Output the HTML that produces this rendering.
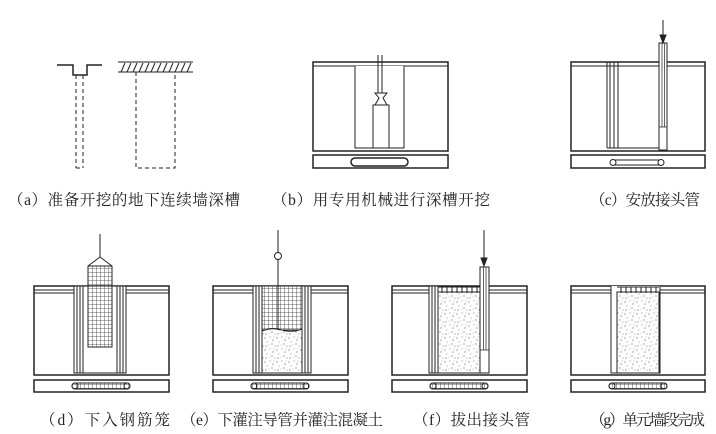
<!DOCTYPE html>
<html><head><meta charset="utf-8"><style>
body{margin:0;background:#fff;width:716px;height:434px;overflow:hidden}
svg{display:block}
text{font-family:"Liberation Serif","Noto Serif CJK SC","Noto Sans CJK SC",serif;font-size:15.5px;fill:#222}
</style></head><body>
<svg width="716" height="434" viewBox="0 0 716 434" xmlns="http://www.w3.org/2000/svg">
<defs>
<pattern id="grid" width="4" height="4" patternUnits="userSpaceOnUse"><path d="M0 0H4M0 0V4" stroke="#333" stroke-width="0.8" fill="none"/></pattern>
<pattern id="conc" width="12" height="12" patternUnits="userSpaceOnUse">
<rect width="12" height="12" fill="#fff"/>
<g fill="#666"><circle cx="1" cy="2" r="0.6"/><circle cx="6" cy="1" r="0.5"/><circle cx="9" cy="4" r="0.6"/><circle cx="3" cy="6" r="0.5"/><circle cx="8" cy="8" r="0.6"/><circle cx="2" cy="10" r="0.6"/><circle cx="11" cy="10" r="0.5"/><circle cx="5" cy="9" r="0.4"/><circle cx="10" cy="1" r="0.4"/></g>
</pattern>
</defs>
<g stroke="#222" fill="none" stroke-width="1">
<path d="M57 65H73V75H87V65H102" stroke-width="1.5"/>
<path d="M76 75V168M83 75V168M76 168H83" stroke-dasharray="4 3"/>
<path d="M118 62H193M118 72H193" />
<path d="M121 72l4-9M127 72l4-9M133 72l4-9M139 72l4-9M145 72l4-9M151 72l4-9M157 72l4-9M163 72l4-9M169 72l4-9M175 72l4-9M181 72l4-9M187 72l4-9"/>
<path d="M136 72V168H175V72" stroke-dasharray="4 3"/>
<rect x="313" y="62" width="135" height="89" stroke-width="1.5"/>
<path d="M313 66H448"/>
<path d="M355 66V148H404V66" fill="#fff"/>
<rect x="373" y="105" width="16" height="43"/>
<path d="M378 55V93M382 55V93M375 93L387 93L383 98L387 105H375L379 98Z"/>
<rect x="313" y="155" width="135" height="13" stroke-width="1.5"/>
<rect x="351" y="158" width="57" height="8" rx="4" stroke-width="1.5"/>
<rect x="571" y="62" width="134" height="89" stroke-width="1.5"/>
<path d="M571 66H705"/>
<path d="M607 62V148M610 62V148M614 62V148M618 62V148"/>
<path d="M607 148H667"/>
<rect x="659" y="43" width="8" height="107" fill="#fff"/>
<path d="M662 43V127M664.5 43V127M659 127H667" stroke-width="0.7"/>
<path d="M663 20V36"/>
<polygon points="660,35 666,35 663,43" fill="#222"/>
<rect x="571" y="155" width="134" height="13" stroke-width="1.5"/>
<path d="M613 160H660M613 165H660"/>
<circle cx="613" cy="162.5" r="3" fill="#fff"/><circle cx="661" cy="162.5" r="3" fill="#fff"/>
</g>
<g stroke="#222" fill="none" stroke-width="1">
<rect x="34" y="286" width="135" height="89" stroke-width="1.5"/>
<path d="M34 290H169M34 293H169"/>
<rect x="74" y="286" width="52" height="87" fill="#fff"/>
<path d="M77 286V373M80 286V373M83 286V373M117 286V373M120 286V373M123 286V373M83 373H117"/>
<rect x="88" y="266" width="24" height="81" fill="url(#grid)"/>
<path d="M100 234V257L88 266M100 257L112 266"/>
<rect x="34" y="380" width="135" height="12" stroke-width="1.5"/>
<rect x="72" y="383" width="58" height="6" rx="3" fill="url(#grid)"/>
<circle cx="75" cy="386" r="3"/><circle cx="127" cy="386" r="3"/>
<rect x="213" y="286" width="135" height="89" stroke-width="1.5"/>
<path d="M213 290H348M213 293H348"/>
<rect x="253" y="286" width="58" height="87" fill="#fff"/>
<path d="M256 286V373M259 286V373M262 286V373M302 286V373M305 286V373M308 286V373"/>
<rect x="262" y="286" width="40" height="44" fill="url(#grid)"/>
<path d="M262 331Q272 327 282 330T302 329V373H262Z" fill="url(#conc)"/>
<path d="M278 230V252M278 260V330"/><circle cx="278" cy="256" r="3.5"/>
<rect x="213" y="380" width="135" height="12" stroke-width="1.5"/>
<rect x="251" y="383" width="58" height="6" rx="3" fill="url(#grid)"/>
<circle cx="254" cy="386" r="3"/><circle cx="306" cy="386" r="3"/>
<rect x="392" y="286" width="135" height="89" stroke-width="1.5"/>
<path d="M392 290H527M392 293H527"/>
<rect x="429" y="286" width="60" height="87" fill="#fff"/>
<path d="M432 286V373M435 286V373M438 286V373"/>
<rect x="438" y="292" width="42" height="81" fill="url(#conc)"/>
<path d="M438 287H480M442 287V293M447 287V293M452 287V293M457 287V293M462 287V293M467 287V293M472 287V293M477 287V293"/>
<rect x="480" y="267" width="9" height="106" fill="#fff"/>
<path d="M483.5 267V350M486 267V350M480 350H489" stroke-width="0.7"/>
<path d="M484 230V259"/>
<polygon points="481,258 487,258 484,266" fill="#222"/>
<rect x="392" y="380" width="135" height="12" stroke-width="1.5"/>
<rect x="430" y="383" width="58" height="6" rx="3" fill="url(#grid)"/>
<circle cx="433" cy="386" r="3"/><circle cx="485" cy="386" r="3"/>
<rect x="571" y="286" width="134" height="89" stroke-width="1.5"/>
<path d="M571 290H705M571 293H705"/>
<path d="M611 286V373H660V286" fill="#fff"/>
<rect x="617" y="292" width="42" height="81" fill="url(#conc)"/>
<path d="M617 292V373"/>
<path d="M617 287H659M621 287V293M626 287V293M631 287V293M636 287V293M641 287V293M646 287V293M651 287V293M656 287V293"/>
<rect x="571" y="380" width="134" height="12" stroke-width="1.5"/>
<rect x="609" y="383" width="58" height="6" rx="3" fill="url(#grid)"/>
<circle cx="612" cy="386" r="3"/><circle cx="664" cy="386" r="3"/>
</g>
<text x="8" y="205" textLength="232" lengthAdjust="spacing">（a）准备开挖的地下连续墙深槽</text>
<text x="272" y="205" textLength="218" lengthAdjust="spacing">（b）用专用机械进行深槽开挖</text>
<text x="590" y="205" textLength="110" lengthAdjust="spacing">（c）安放接头管</text>
<text x="40" y="425" textLength="130" lengthAdjust="spacing">（d）下入钢筋笼</text>
<text x="181" y="425" textLength="202" lengthAdjust="spacing">（e）下灌注导管并灌注混凝土</text>
<text x="413" y="425" textLength="117" lengthAdjust="spacing">（f）拔出接头管</text>
<text x="590" y="425" textLength="115" lengthAdjust="spacing">（g）单元墙段完成</text>
</svg>
</body></html>
